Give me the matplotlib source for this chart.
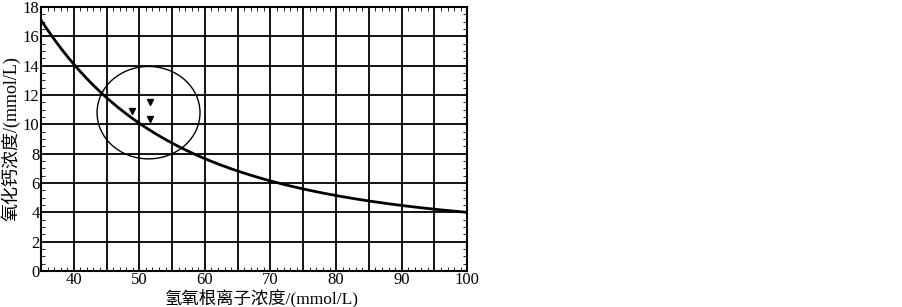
import numpy as np
import matplotlib.pyplot as plt
from matplotlib.patches import Ellipse
from matplotlib.ticker import MultipleLocator

plt.rcParams['font.family'] = ['Liberation Serif', 'Noto Sans CJK SC', 'DejaVu Sans']

# 曲线数据
oh_conc = [35, 40, 45, 50, 55, 60, 65, 70, 75, 80, 85, 90, 95, 100]
cao_conc = [17.2, 14.0, 11.9, 9.9, 8.7, 7.8, 6.9, 6.15, 5.6, 5.1, 4.75, 4.45, 4.2, 4.05]

# 三个实测点
pt_x = [48.9, 51.6, 51.6]
pt_y = [10.9, 11.5, 10.4]

fig = plt.figure(figsize=(9.03, 3.07), dpi=100)
ax = fig.add_axes([0.0454, 0.117, 0.472, 0.86])

# 平滑曲线（对数拟合）
xs = np.linspace(35, 100, 300)
coef = np.polyfit(np.log(oh_conc), np.log(cao_conc), 3)
ys = np.exp(np.polyval(coef, np.log(xs)))
ax.plot(xs, ys, color='black', lw=2, zorder=3)

ax.scatter(pt_x, pt_y, marker='v', color='black', s=18, zorder=4)
ax.add_patch(Ellipse((51.4, 10.8), 15.7, 6.3, fill=False, ec='black', lw=1, zorder=3))

ax.set_xlim(35, 100)
ax.set_ylim(0, 18)
ax.xaxis.set_major_locator(MultipleLocator(5))
ax.yaxis.set_major_locator(MultipleLocator(2))
ax.xaxis.set_minor_locator(MultipleLocator(1))
ax.yaxis.set_minor_locator(MultipleLocator(0.5))
ax.grid(True, which='major', color='black', lw=1.3)
ax.set_xticklabels([str(int(v)) if v % 10 == 0 else '' for v in ax.get_xticks()])
ax.tick_params(which='both', direction='in', top=True, right=True, labelsize=12, pad=1)
ax.tick_params(which='major', length=0)
ax.tick_params(which='minor', length=3)
for s in ax.spines.values():
    s.set_linewidth(1.5)

fig.text(0.29, 0.028, '氢氧根离子浓度/(mmol/L)', fontsize=12.5, ha='center', va='center')
fig.text(0.012, 0.55, '氧化钙浓度/(mmol/L)', fontsize=13, ha='center', va='center', rotation=90)

fig.savefig('out.png', dpi=100)
